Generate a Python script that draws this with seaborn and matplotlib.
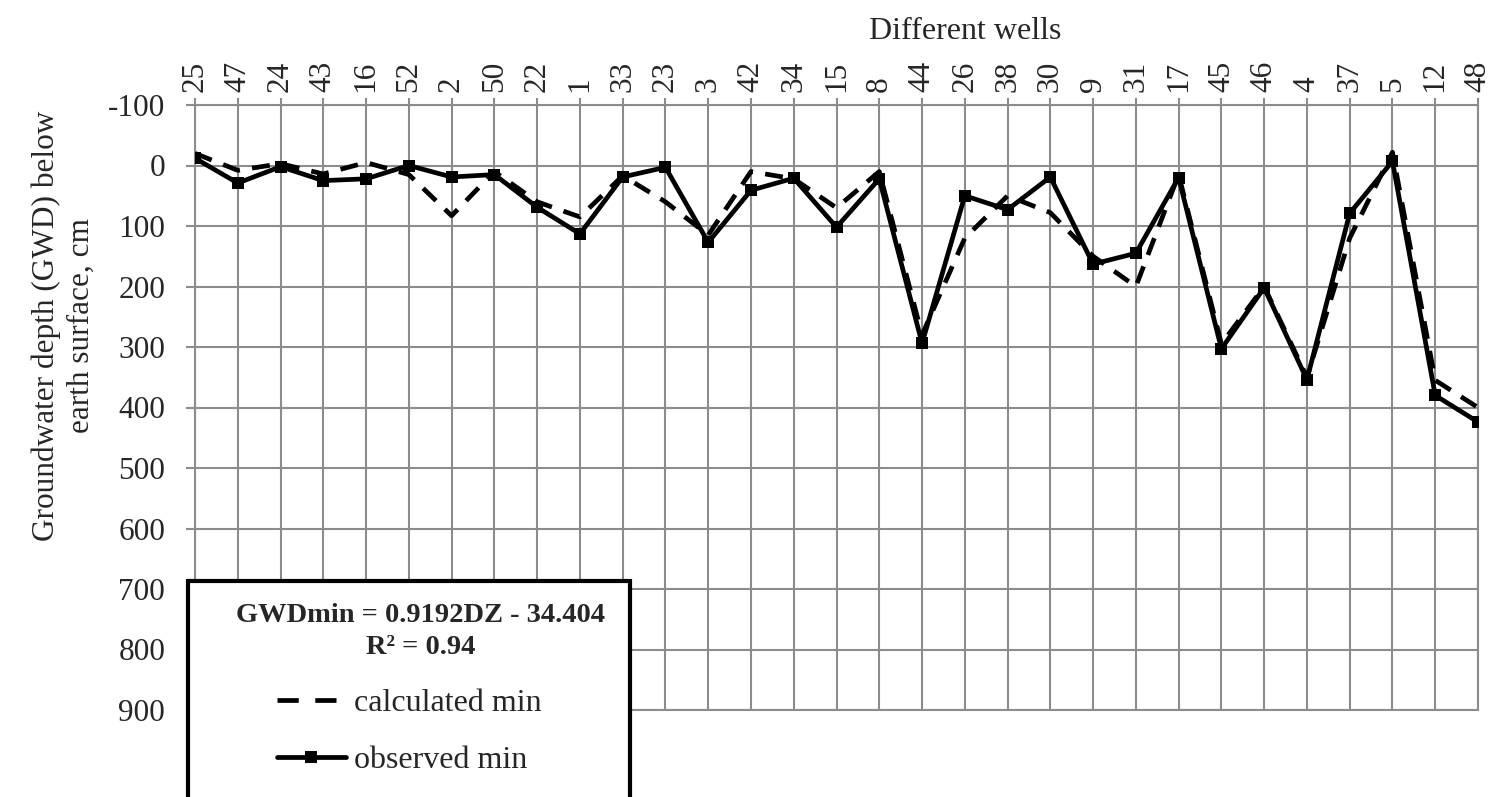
import matplotlib
matplotlib.use("Agg")
import matplotlib.pyplot as plt
import seaborn as sns
import pandas as pd
import numpy as np
from matplotlib.patches import Rectangle
from matplotlib.lines import Line2D

wells = ["25", "47", "24", "43", "16", "52", "2", "50", "22", "1", "33", "23", "3", "42", "34",
         "15", "8", "44", "26", "38", "30", "9", "31", "17", "45", "46", "4", "37", "5", "12", "48"]
observed_min = [-12, 29, 2, 25, 22, 0, 19, 15, 69, 113, 19, 3, 127, 41, 21,
                102, 22, 294, 50, 73, 19, 163, 145, 20, 303, 202, 354, 79, -7, 380, 424]
calculated_min = [-20, 8, -3, 14, -5, 15, 83, 10, 60, 85, 17, 60, 115, 10, 22,
                  70, 10, 280, 120, 50, 78, 150, 200, 15, 295, 200, 350, 120, -22, 355, 400]
y_ticks = [-100, 0, 100, 200, 300, 400, 500, 600, 700, 800, 900]
equation_text = "GWDmin = 0.9192DZ - 34.404"
r2_text = "R² = 0.94"

sns.set_theme(style="white")
plt.rcParams["font.family"] = ["Liberation Serif", "DejaVu Serif"]

df = pd.DataFrame({"well": wells, "observed": observed_min, "calculated": calculated_min})

fig = plt.figure(figsize=(14.93, 7.97), dpi=100)
ax = fig.add_axes([195 / 1493, 1 - 710 / 797, (1478 - 195) / 1493, (710 - 105) / 797])

grid_c = "#8c8c8c"
dash_style = (0, (3.8, 2.6))
sns.lineplot(data=df, x="well", y="calculated", ax=ax, color="black", lw=3.4,
             linestyle=dash_style, sort=False, zorder=3)
sns.lineplot(data=df, x="well", y="observed", ax=ax, color="black", lw=3.4,
             marker="s", markersize=8, markeredgewidth=0, sort=False, zorder=4)

ax.set_xlim(0, len(wells) - 1)
ax.set_ylim(900, -100)
ax.set_yticks(y_ticks)
ax.set_yticklabels([str(v) for v in y_ticks])
ax.set_xticks(range(len(wells)))
ax.set_xticklabels(wells, rotation=90)
ax.xaxis.tick_top()
ax.xaxis.set_label_position("top")
ax.grid(True, color=grid_c, lw=1.5)
for s in ax.spines.values():
    s.set_color(grid_c)
    s.set_linewidth(1.5)
ax.tick_params(axis="x", which="both", top=True, bottom=False, length=5, width=1.5,
               color=grid_c, pad=4, labelsize=22.5)
ax.tick_params(axis="y", which="both", left=True, length=6.5, width=1.5,
               color=grid_c, pad=15, labelsize=22.5)

ax.set_xlabel("Different wells", fontsize=23)
ax.xaxis.set_label_coords((965 - 195) / 1283, 1 + (105 - 39) / 605)
ax.set_ylabel("Groundwater depth (GWD) below\nearth surface, cm", fontsize=22.5,
              multialignment="center", linespacing=1.3)
ax.yaxis.set_label_coords(-0.077, 0.635)

# legend / equation box
box = Rectangle((188 / 1493, -0.05), (630 - 188) / 1493, 0.05 + 1 - 581 / 797,
                transform=fig.transFigure, facecolor="white", edgecolor="black",
                lw=3, zorder=5)
fig.add_artist(box)
fig.text(421 / 1493, 1 - 616 / 797, equation_text, ha="center", va="center",
         fontsize=20.5, fontweight="bold", zorder=6)
fig.text(421 / 1493, 1 - 648 / 797, r2_text, ha="center", va="center",
         fontsize=20.5, fontweight="bold", zorder=6)

handles = [Line2D([], [], color="black", lw=3.4, linestyle=(0, (4.5, 3.5))),
           Line2D([], [], color="black", lw=3.4, marker="s", markersize=8, markeredgewidth=0)]
leg = fig.legend(handles, ["calculated min", "observed min"], loc="upper left",
                 bbox_to_anchor=(277 / 1493, 1 - 689 / 797), frameon=False,
                 fontsize=23, borderpad=0, borderaxespad=0, handlelength=2.15,
                 handletextpad=0.25, labelspacing=0.85)
leg.set_zorder(7)

fig.savefig("out.png", dpi=100)
